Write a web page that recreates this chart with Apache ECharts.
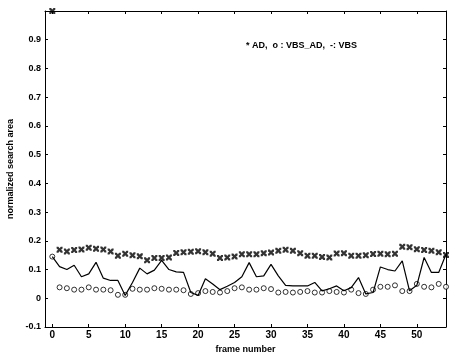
<!DOCTYPE html>
<html><head><meta charset="utf-8">
<script src="https://cdn.jsdelivr.net/npm/echarts@6/dist/echarts.min.js"></script>
<style>html,body{margin:0;padding:0;background:#fff}#c{width:450px;height:352px}</style>
</head><body><div id="c"></div>
<script>
const frames = [];
for (let i = 0; i <= 54; i++) frames.push(i);
const adValues = [1.0,0.169,0.163,0.168,0.170,0.176,0.172,0.170,0.163,0.148,0.155,0.150,0.146,0.132,0.140,0.140,0.142,0.158,0.160,0.162,0.164,0.160,0.155,0.140,0.142,0.145,0.153,0.153,0.153,0.157,0.159,0.165,0.169,0.165,0.157,0.148,0.148,0.144,0.142,0.156,0.157,0.148,0.148,0.150,0.154,0.155,0.153,0.155,0.179,0.178,0.171,0.168,0.165,0.160,0.151];
const vbsAdValues = [0.145,0.038,0.035,0.030,0.030,0.038,0.030,0.030,0.028,0.012,0.012,0.033,0.030,0.030,0.035,0.033,0.030,0.030,0.028,0.015,0.018,0.025,0.022,0.020,0.025,0.035,0.038,0.030,0.030,0.035,0.032,0.020,0.022,0.020,0.022,0.025,0.020,0.020,0.025,0.022,0.020,0.030,0.018,0.015,0.030,0.040,0.040,0.045,0.025,0.025,0.050,0.040,0.038,0.050,0.040];
const vbsValues = [0.145,0.110,0.100,0.115,0.075,0.085,0.125,0.070,0.062,0.062,0.010,0.055,0.105,0.085,0.098,0.132,0.100,0.092,0.090,0.020,0.010,0.068,0.050,0.030,0.042,0.055,0.075,0.124,0.075,0.078,0.118,0.078,0.045,0.043,0.043,0.043,0.055,0.026,0.033,0.043,0.026,0.037,0.072,0.015,0.020,0.109,0.100,0.095,0.130,0.026,0.045,0.142,0.090,0.090,0.153];
const xTicks = [0,5,10,15,20,25,30,35,40,45,50];
const legendText = '* AD,  o : VBS_AD,  -: VBS';

const pair = a => frames.map((f, i) => [f, a[i]]);
const FONT = 'Liberation Sans';
const chart = echarts.init(document.getElementById('c'));
const lineStyle = {color:'#000', width:1};
const xMark = 'path://M0,0 L3,0 L5,2.5 L7,0 L10,0 L10,3 L7.5,5 L10,7 L10,10 L7,10 L5,7.5 L3,10 L0,10 L0,7 L2.5,5 L0,3 Z';
chart.setOption({
  animation:false,
  grid:{left:45,right:4,top:11,bottom:25,outerBoundsMode:'none',containLabel:false},
  xAxis:[{
    type:'value', min:-1, max:54, position:'bottom',
    name:'frame number', nameLocation:'middle', nameGap:11,
    nameTextStyle:{fontFamily:FONT, fontSize:9, fontWeight:'bold', color:'#000'},
    axisLine:{onZero:false, lineStyle},
    axisTick:{inside:true, length:3, lineStyle, customValues:xTicks},
    axisLabel:{customValues:xTicks, margin:3, fontFamily:FONT, fontSize:10, fontWeight:'bold', color:'#000'},
    splitLine:{show:false}
  },{
    type:'value', min:-1, max:54, position:'top',
    axisLine:{onZero:false, lineStyle},
    axisTick:{inside:true, length:3, lineStyle, customValues:xTicks},
    axisLabel:{show:false}, splitLine:{show:false}
  }],
  yAxis:[{
    type:'value', min:-0.1, max:1.0, interval:0.1, position:'left',
    name:'normalized search area', nameLocation:'middle', nameGap:24, nameRotate:90,
    nameTextStyle:{fontFamily:FONT, fontSize:9, fontWeight:'bold', color:'#000'},
    axisLine:{onZero:false, lineStyle},
    axisTick:{inside:true, length:3, lineStyle},
    axisLabel:{margin:4, fontFamily:FONT, fontSize:9, fontWeight:'bold', color:'#000',
      formatter:v => v > 0.95 ? '' : (Math.abs(v) < 1e-9 ? '0' : (+v).toFixed(1))},
    splitLine:{show:false}
  },{
    type:'value', min:-0.1, max:1.0, interval:0.1, position:'right',
    axisLine:{onZero:false, lineStyle},
    axisTick:{inside:true, length:3, lineStyle},
    axisLabel:{show:false}, splitLine:{show:false}
  }],
  graphic:[{
    type:'text', left:246, top:41,
    style:{text:legendText, fontFamily:FONT, fontSize:9, fontWeight:'bold', fill:'#000'}
  }],
  series:[{
    name:'AD', type:'scatter', data:pair(adValues),
    symbol:xMark, symbolSize:6, itemStyle:{color:'#000'}
  },{
    name:'VBS_AD', type:'scatter', data:pair(vbsAdValues),
    symbol:'circle', symbolSize:5, itemStyle:{color:'#fff', borderColor:'#000', borderWidth:1}
  },{
    name:'VBS', type:'line', data:pair(vbsValues), showSymbol:false, symbol:'none',
    lineStyle:{color:'#000', width:1.2}
  }]
});
</script></body></html>
